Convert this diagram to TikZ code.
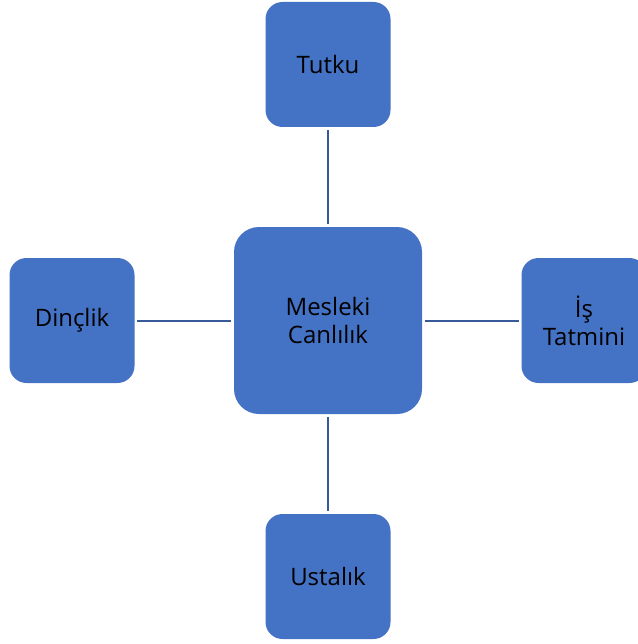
\documentclass[tikz,border=0pt]{standalone}
\usepackage{fontspec}
\setmainfont{Open Sans}
\usepackage{xcolor}
\usetikzlibrary{positioning}
\definecolor{boxblue}{HTML}{4472C4}
\definecolor{linkblue}{HTML}{385A98}

\begin{document}
\begin{tikzpicture}[x=1pt,y=-1pt,every node/.style={on grid,node distance=256pt},
    box/.style={fill=boxblue,rounded corners=17pt,minimum width=125pt,minimum height=125pt,
      align=center,font=\fontsize{24}{28}\selectfont},
    link/.style={draw=linkblue,line width=2pt,shorten >=2.5pt,shorten <=2.5pt}]
    \useasboundingbox (0,0) rectangle (637,644);
    \node[box,minimum width=188pt,minimum height=187pt,rounded corners=25pt] (MC) at (328,320.5) {Mesleki\\Canlılık};
    \node[box,above of=MC] (T) {Tutku};
    \node[box,below of=MC] (U) {Ustalık};
    \node[box,left of=MC] (D) {Dinçlik};
    \node[box,right of=MC] (IT) {İş\\Tatmini};
    \draw[link] (MC) -- (T);
    \draw[link] (MC) -- (U);
    \draw[link] (MC) -- (D);
    \draw[link] (MC) -- (IT);
  \end{tikzpicture}
\end{document}
